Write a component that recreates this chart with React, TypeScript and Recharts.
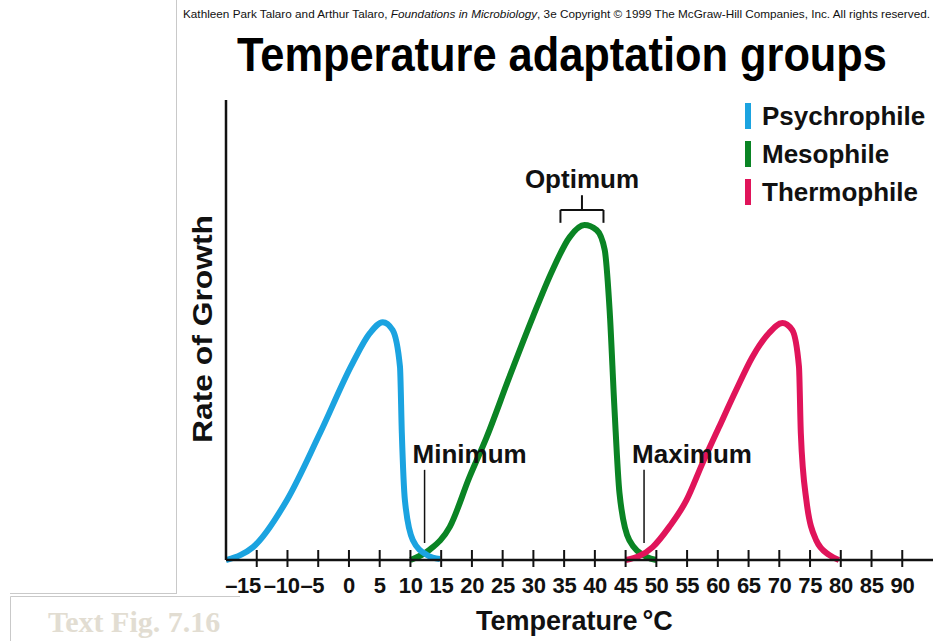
import React from 'react';
import { LineChart, Line, XAxis, YAxis, ReferenceLine, Legend } from 'recharts';

// temperature (°C) vs relative growth rate
const psychrophile = [
  { t: -20, r: 0 }, { t: -17.6, r: 1.1 }, { t: -15.6, r: 2.8 }, { t: -10.1, r: 13 },
  { t: -4.7, r: 27.6 }, { t: 0.6, r: 42.8 }, { t: 3.4, r: 49.3 }, { t: 5.5, r: 51.7 },
  { t: 7.1, r: 50 }, { t: 8.3, r: 42 }, { t: 8.6, r: 27.6 }, { t: 9.1, r: 13 },
  { t: 10.4, r: 4.3 }, { t: 12.7, r: 1.1 }, { t: 14.8, r: 0.2 },
];

const mesophile = [
  { t: 10, r: 0 }, { t: 13.1, r: 2.2 }, { t: 16.4, r: 7.2 }, { t: 19.6, r: 18 },
  { t: 22.4, r: 26.7 }, { t: 26.1, r: 39.8 }, { t: 29.9, r: 52.8 }, { t: 33.1, r: 63 },
  { t: 35.9, r: 70.2 }, { t: 38.3, r: 72.8 }, { t: 40.3, r: 71.7 }, { t: 41.6, r: 67.4 },
  { t: 42.4, r: 54.3 }, { t: 43.2, r: 32.6 }, { t: 44, r: 14.6 }, { t: 45.6, r: 4.3 },
  { t: 48.4, r: 0.7 }, { t: 50, r: 0 },
];

const thermophile = [
  { t: 45, r: 0 }, { t: 49.4, r: 2.8 }, { t: 52.1, r: 7.2 }, { t: 54.9, r: 13 },
  { t: 57.5, r: 21 }, { t: 60.2, r: 28.9 }, { t: 63, r: 37 }, { t: 65.6, r: 44.1 },
  { t: 68.3, r: 49.3 }, { t: 70.5, r: 51.5 }, { t: 72.1, r: 50 }, { t: 73.2, r: 42 },
  { t: 73.5, r: 27.6 }, { t: 74.4, r: 13 }, { t: 76, r: 4.3 }, { t: 78.1, r: 1.1 },
  { t: 79.7, r: 0 },
];

const tempTicks = [-15, -10, -5, 0, 5, 10, 15, 20, 25, 30, 35, 40, 45, 50, 55, 60, 65, 70, 75, 80, 85, 90];
const seriesNames = ['Psychrophile', 'Mesophile', 'Thermophile'];

// annotation positions (°C / growth units)
const minimumTemp = 12.3;
const maximumTemp = 48;
const markerSpan = [3.7, 19.6];
const optimumRange = [34.4, 41.4];
const optimumCenter = 37.9;
const optimumLevels = [73.3, 76.1, 79.3];

const COLORS: Record<string, string> = {
  Psychrophile: '#1ba3e0',
  Mesophile: '#0a8424',
  Thermophile: '#e0145a',
};

const FONT = '"Liberation Sans", Arial, Helvetica, sans-serif';
const INK = '#111';

const TempTick = (props: any) => {
  const { x, y, payload, index } = props;
  const v = payload.value as number;
  const digits = String(Math.abs(v)).length;
  const label = v < 0 ? '\u2013' + Math.abs(v) : String(v);
  // the leftmost label is tucked in a little so the negative labels don't collide
  const nudge = index === 0 ? -8 : 0;
  return (
    <g>
      <line x1={x} x2={x} y1={y - 10} y2={y + 7} stroke={INK} strokeWidth={2} />
      <text x={x + digits * 6.1 + nudge} y={y + 33} textAnchor="end" fontFamily={FONT} fontWeight="bold" fontSize={22} letterSpacing={-0.3} fill={INK}>
        {label}
      </text>
    </g>
  );
};

const markerLabel = (text: string) => (props: any) => {
  const vb = props.viewBox || {};
  return (
    <text x={vb.x - 12} y={vb.y - 7} fontFamily={FONT} fontWeight="bold" fontSize={26} fill={INK}>
      {text}
    </text>
  );
};

const optimumLabel = (props: any) => {
  const vb = props.viewBox || {};
  return (
    <text x={vb.x} y={vb.y - 7} textAnchor="middle" fontFamily={FONT} fontWeight="bold" fontSize={26} fill={INK}>
      Optimum
    </text>
  );
};

const renderLegend = (props: any) => {
  const items = [...(props.payload || [])].sort(
    (a: any, b: any) => seriesNames.indexOf(a.value) - seriesNames.indexOf(b.value)
  );
  return (
    <div>
      {items.map((it: any) => (
        <div key={it.value} style={{ display: 'flex', alignItems: 'center', height: 38 }}>
          <div style={{ width: 6, height: 26, background: it.color, marginRight: 11 }} />
          <span style={{ fontFamily: FONT, fontWeight: 'bold', fontSize: 26, color: INK, lineHeight: '26px' }}>
            {it.value}
          </span>
        </div>
      ))}
    </div>
  );
};

export default function App() {
  return (
    <div style={{ position: 'absolute', left: 0, top: 0, width: 933, height: 641, background: '#fff', overflow: 'hidden' }}>
      <div style={{ position: 'absolute', left: 0, top: 0 }}>
        <LineChart width={933} height={641} margin={{ top: 100, right: 0, bottom: 80, left: 225 }}>
          <XAxis
            type="number"
            dataKey="t"
            domain={[-20, 95]}
            ticks={tempTicks}
            interval={0}
            tick={<TempTick />}
            tickLine={false}
            tickSize={0}
            tickMargin={0}
            height={1}
            allowDataOverflow
            axisLine={{ stroke: INK, strokeWidth: 2.5 }}
          />
          <YAxis
            type="number"
            domain={[0, 100]}
            width={1}
            tick={false}
            tickLine={false}
            axisLine={{ stroke: INK, strokeWidth: 2.5 }}
          />
          <Legend
            layout="vertical"
            align="center"
            verticalAlign="middle"
            wrapperStyle={{ left: 745, top: 97, width: 188 }}
            content={renderLegend}
          />
          <Line data={mesophile} dataKey="r" name="Mesophile" type="monotone" stroke={COLORS.Mesophile} strokeWidth={6} dot={false} activeDot={false} isAnimationActive={false} />
          <Line data={psychrophile} dataKey="r" name="Psychrophile" type="monotone" stroke={COLORS.Psychrophile} strokeWidth={6} dot={false} activeDot={false} isAnimationActive={false} />
          <Line data={thermophile} dataKey="r" name="Thermophile" type="monotone" stroke={COLORS.Thermophile} strokeWidth={6} dot={false} activeDot={false} isAnimationActive={false} />

          <ReferenceLine
            segment={[{ x: minimumTemp, y: markerSpan[0] }, { x: minimumTemp, y: markerSpan[1] }]}
            stroke={INK}
            strokeWidth={1.5}
            label={markerLabel('Minimum')}
          />
          <ReferenceLine
            segment={[{ x: maximumTemp, y: markerSpan[0] }, { x: maximumTemp, y: markerSpan[1] }]}
            stroke={INK}
            strokeWidth={1.5}
            label={markerLabel('Maximum')}
          />
          <ReferenceLine
            segment={[{ x: optimumRange[0], y: optimumLevels[1] }, { x: optimumRange[1], y: optimumLevels[1] }]}
            stroke={INK}
            strokeWidth={2}
          />
          <ReferenceLine
            segment={[{ x: optimumRange[0], y: optimumLevels[0] }, { x: optimumRange[0], y: optimumLevels[1] }]}
            stroke={INK}
            strokeWidth={2}
          />
          <ReferenceLine
            segment={[{ x: optimumRange[1], y: optimumLevels[0] }, { x: optimumRange[1], y: optimumLevels[1] }]}
            stroke={INK}
            strokeWidth={2}
          />
          <ReferenceLine
            segment={[{ x: optimumCenter, y: optimumLevels[1] }, { x: optimumCenter, y: optimumLevels[2] }]}
            stroke={INK}
            strokeWidth={2}
            label={optimumLabel}
          />
        </LineChart>
      </div>

      <svg width={933} height={641} style={{ position: 'absolute', left: 0, top: 0, pointerEvents: 'none' }}>
        {/* slide frame */}
        <line x1={176.5} x2={176.5} y1={0} y2={594} stroke="#c9c9c9" strokeWidth={1} />
        <line x1={10} x2={176.5} y1={593.5} y2={593.5} stroke="#c9c9c9" strokeWidth={1} />
        <line x1={10.5} x2={240} y1={596.5} y2={596.5} stroke="#c9c9c9" strokeWidth={1} />
        <line x1={10.5} x2={10.5} y1={596.5} y2={641} stroke="#c9c9c9" strokeWidth={1} />

        <text x={183} y={18} fontFamily={FONT} fontSize={11} fill={INK} textLength={747} lengthAdjust="spacingAndGlyphs">
          Kathleen Park Talaro and Arthur Talaro, <tspan fontStyle="italic">Foundations in Microbiology</tspan>, 3e Copyright © 1999 The McGraw-Hill Companies, Inc.  All rights reserved.
        </text>
        <text
          x={237}
          y={71}
          fontFamily={FONT}
          fontWeight="bold"
          fontSize={49}
          fill="#000"
          textLength={650}
          lengthAdjust="spacingAndGlyphs"
        >
          Temperature adaptation groups
        </text>
        <text
          transform="translate(212 329) rotate(-90)"
          textAnchor="middle"
          fontFamily={FONT}
          fontWeight="bold"
          fontSize={28}
          fill={INK}
          textLength={228}
          lengthAdjust="spacingAndGlyphs"
        >
          Rate of Growth
        </text>
        <text x={476} y={630} fontFamily={FONT} fontWeight="bold" fontSize={27} fill={INK}>
          Temperature<tspan dx={5}>°C</tspan>
        </text>
        <text x={48} y={632} fontFamily={'"Liberation Serif", "DejaVu Serif", serif'} fontWeight="bold" fontSize={30} fill="#e2ddd2">
          Text Fig. 7.16
        </text>
      </svg>
    </div>
  );
}
